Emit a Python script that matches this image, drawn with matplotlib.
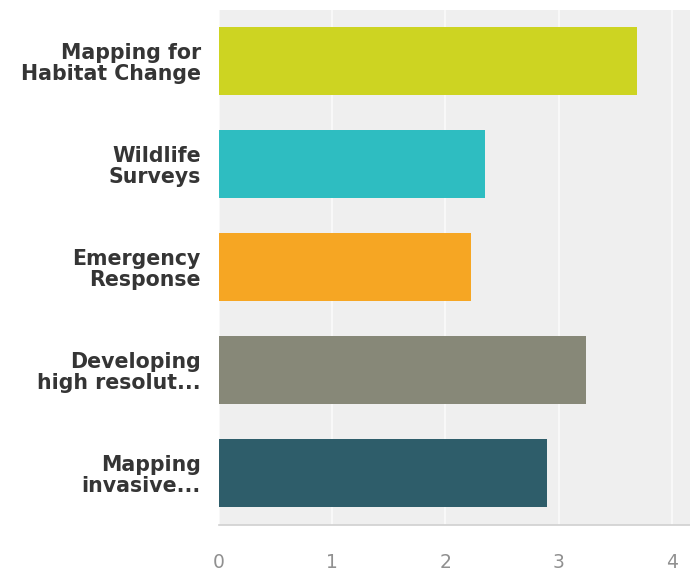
import matplotlib.pyplot as plt

# categories, top to bottom
labels = ['Mapping for\nHabitat Change', 'Wildlife\nSurveys', 'Emergency\nResponse',
          'Developing\nhigh resolut...', 'Mapping\ninvasive...']
# average score per category
values = [3.69, 2.35, 2.23, 3.24, 2.90]
colors = ['#cdd422', '#2ebdc1', '#f6a623', '#878878', '#2e5d6a']
xticks = [0, 1, 2, 3, 4]

fig = plt.figure(figsize=(6.9, 5.71), dpi=100)
ax = fig.add_axes([0.317, 0.081, 0.683, 0.902])

pos = list(range(len(labels)))
ax.barh(pos, values, height=0.66, color=colors, zorder=3)

ax.set_facecolor('#efefef')
ax.set_xlim(0, 4.16)
ax.set_ylim(len(labels) - 0.5, -0.5)
ax.set_xticks(xticks)
ax.set_xticklabels([str(t) for t in xticks])
ax.set_yticks(pos)
ax.set_yticklabels(labels, fontsize=14.8, fontweight='bold', color='#353535',
                   linespacing=1.05)
for t in ax.get_yticklabels():
    t.set_horizontalalignment('right')
    t.set_multialignment('right')

ax.tick_params(axis='y', length=0, pad=13)
ax.tick_params(axis='x', length=0, pad=20, labelsize=13.5, labelcolor='#909090')

ax.grid(axis='x', color='#fafafa', linewidth=1.2, zorder=0)
for side in ['top', 'right', 'left']:
    ax.spines[side].set_visible(False)
ax.spines['bottom'].set_color('#d0d0d0')
ax.spines['bottom'].set_linewidth(1.2)

plt.savefig('out.png', dpi=100)
